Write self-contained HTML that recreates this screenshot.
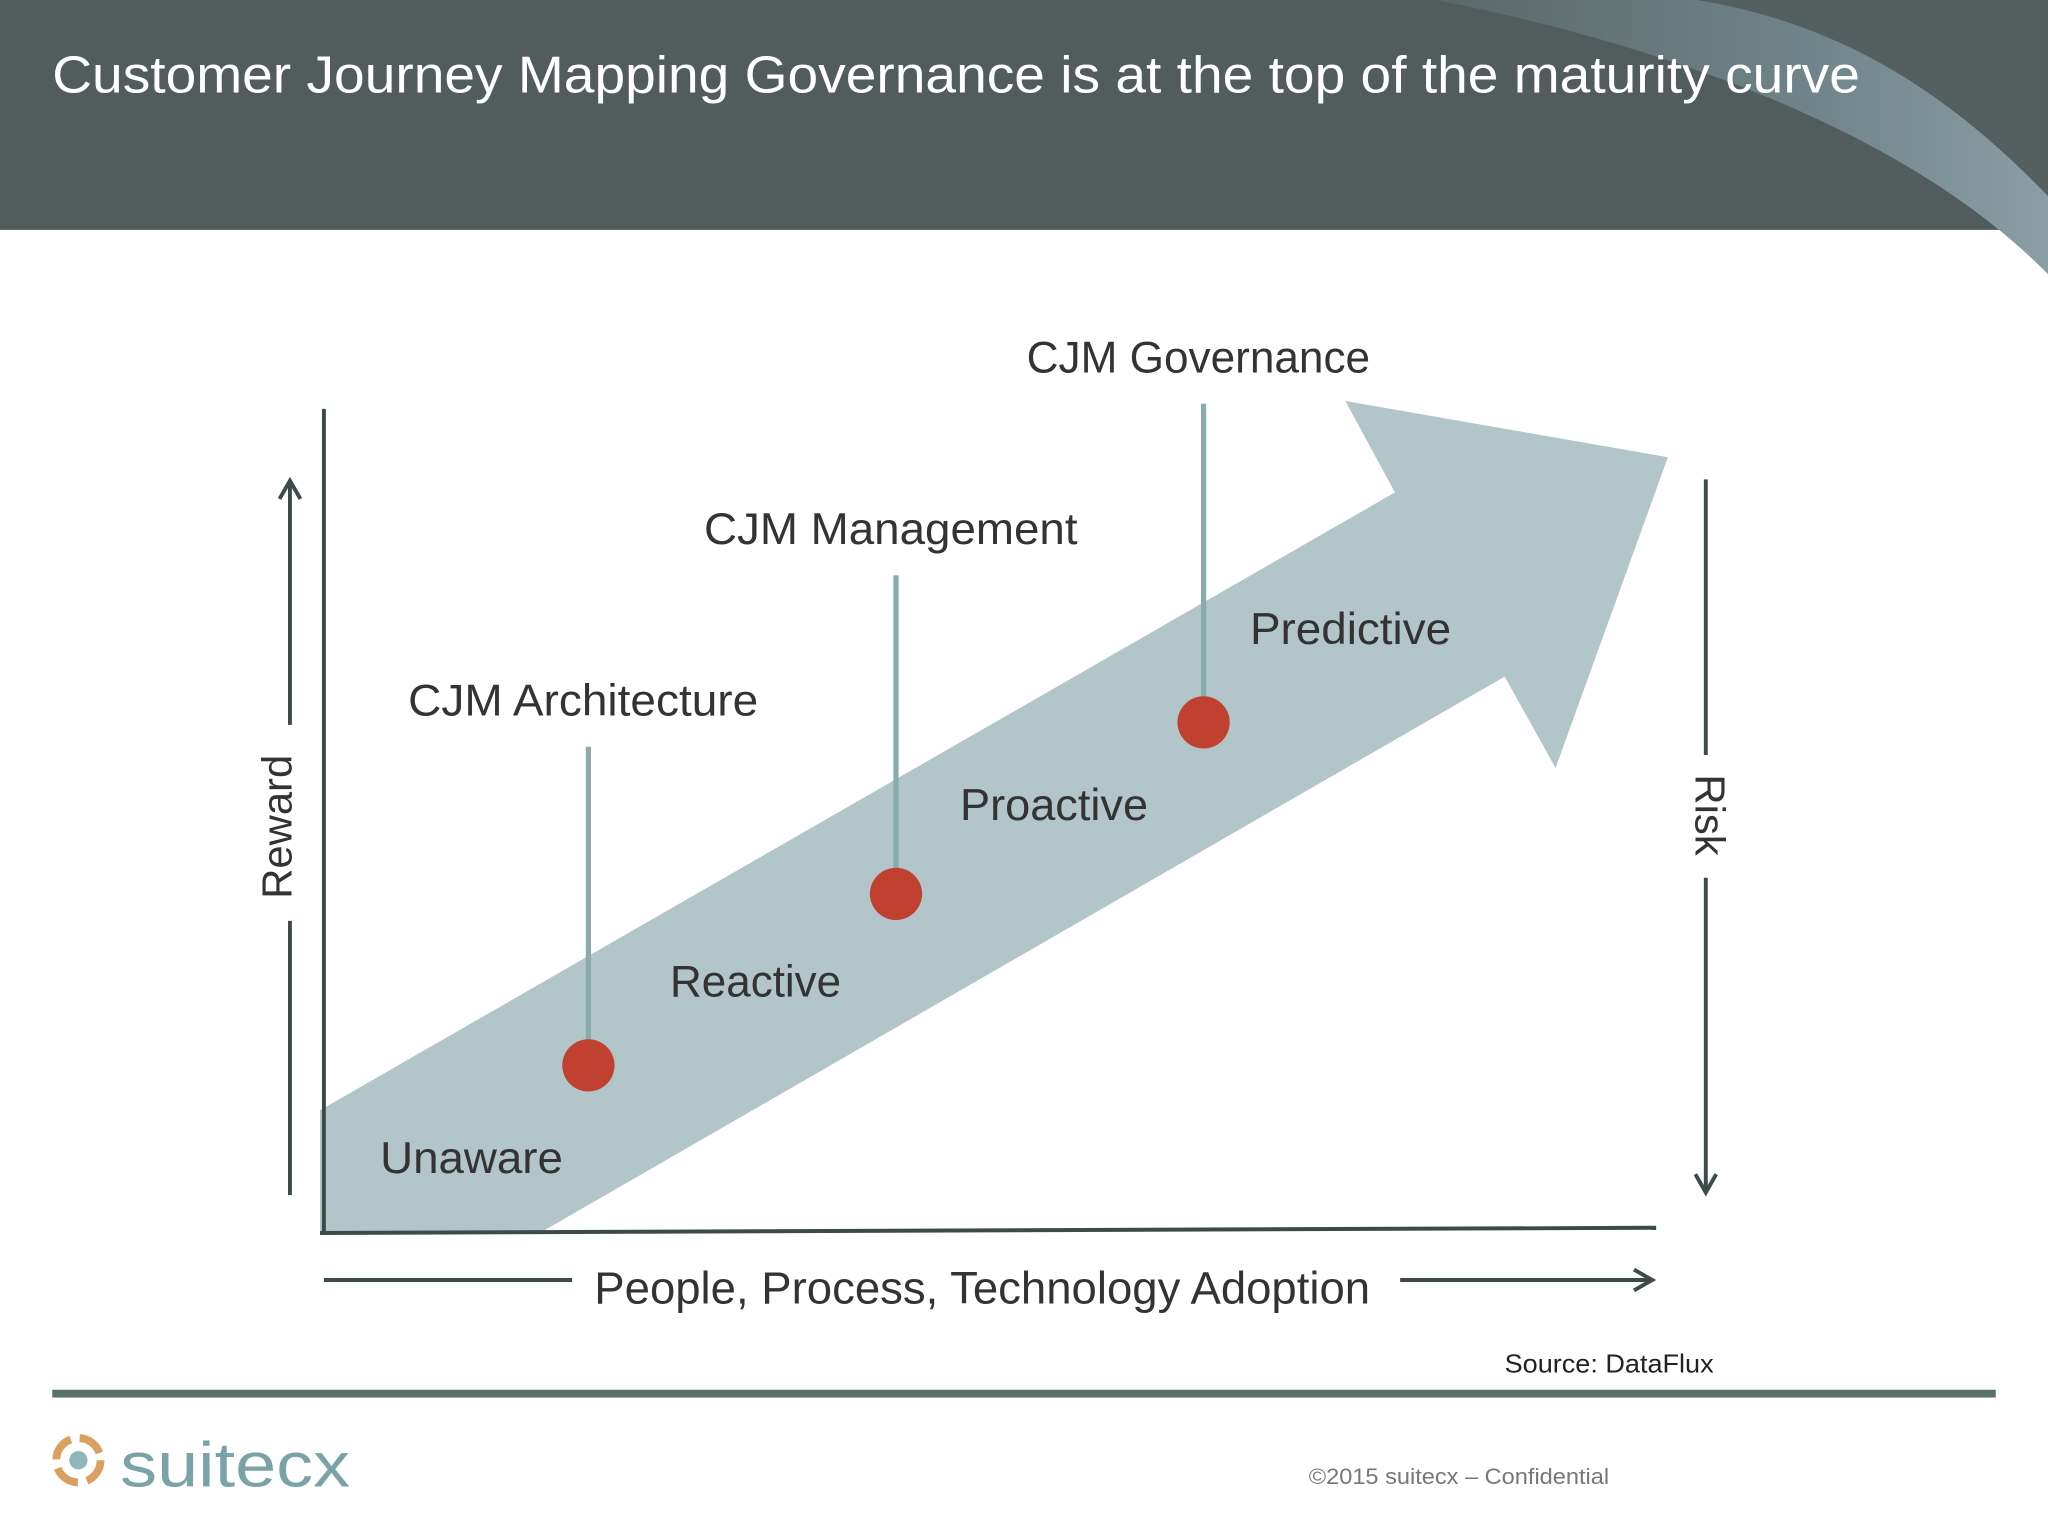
<!DOCTYPE html>
<html><head><meta charset="utf-8"><style>
html,body{margin:0;padding:0;background:#fff;}
svg{display:block;}
text{font-family:"Liberation Sans",sans-serif;}
</style></head><body>
<svg id="chart" width="2048" height="1536" viewBox="0 0 1568 1176" xmlns="http://www.w3.org/2000/svg">
<defs>
<linearGradient id="sw" x1="0" y1="0" x2="1" y2="0">
<stop offset="0" stop-color="#5a6868"/><stop offset="0.6" stop-color="#6f8488"/><stop offset="1" stop-color="#8a9ea3"/>
</linearGradient>
</defs>
<g>
<rect x="0" y="0" width="1568" height="176" fill="#525c5c"/>
<path d="M1100,0 C1300,40 1470,110 1568,210 L1568,150 C1500,80 1420,20 1300,0 Z" fill="url(#sw)"/>
<path d="M1300,0 L1568,0 L1568,150 C1500,80 1420,20 1300,0 Z" fill="#546060"/>
<text x="40" y="71" font-size="40" fill="#ffffff" textLength="1384" lengthAdjust="spacingAndGlyphs">Customer Journey Mapping Governance is at the top of the maturity curve</text>
</g>
<g id="plot">
<polygon points="245,850 1068,377 1030,307 1277,350 1191,588 1152,518 415,943 245,943" fill="#b2c5c8"/>
<line x1="248" y1="313" x2="248" y2="945" stroke="#3d4a4a" stroke-width="3"/>
<line x1="245" y1="944" x2="1268" y2="940" stroke="#3d4a4a" stroke-width="3"/>
<g stroke="#3d4a4a" stroke-width="3" fill="none">
<line x1="222" y1="915" x2="222" y2="705"/><line x1="222" y1="555" x2="222" y2="370"/>
<polyline points="214,382 222,368 230,382"/>
</g>
<text transform="translate(223,633) rotate(-90)" text-anchor="middle" font-size="32" fill="#333">Reward</text>
<g stroke="#3d4a4a" stroke-width="3" fill="none">
<line x1="1306" y1="367" x2="1306" y2="578"/><line x1="1306" y1="672" x2="1306" y2="913"/>
<polyline points="1298,899 1306,913 1314,899"/>
</g>
<text transform="translate(1298,624) rotate(90)" text-anchor="middle" font-size="32" fill="#333">Risk</text>
<g stroke="#3d4a4a" stroke-width="3" fill="none">
<line x1="248" y1="980" x2="438" y2="980"/><line x1="1072" y1="980" x2="1265" y2="980"/>
<polyline points="1251,972 1265,980 1251,988"/>
</g>
<text x="752" y="998" text-anchor="middle" font-size="35" fill="#333" textLength="594" lengthAdjust="spacingAndGlyphs">People, Process, Technology Adoption</text>
</g>
<text x="1152" y="1051" font-size="20" fill="#222" textLength="160" lengthAdjust="spacingAndGlyphs">Source: DataFlux</text>
<rect x="40" y="1064" width="1488" height="6" fill="#5b716b"/>
<g>
<circle cx="60" cy="1118" r="17" fill="none" stroke="#d9a060" stroke-width="6" stroke-dasharray="20 7"/>
<circle cx="60" cy="1118" r="7" fill="#8fb8bc"/>
<text x="92" y="1138" font-size="48" fill="#7aa3a8" textLength="176" lengthAdjust="spacingAndGlyphs">suitecx</text>
</g>
<text x="1002" y="1136" font-size="17" fill="#777" textLength="230" lengthAdjust="spacingAndGlyphs">©2015 suitecx – Confidential</text>
<script>
const milestones = ["CJM Architecture", "CJM Management", "CJM Governance"];
const milestoneLevels = [1, 2, 3];
const stages = ["Unaware", "Reactive", "Proactive", "Predictive"];
const stageLevels = [0, 1, 2, 3];
const NS = "http://www.w3.org/2000/svg";
const milestoneWidths = [268, 286, 263];
const stageWidths = [140, 131, 144, 154];
function xs(v){ return 215 + v * 235.5; }
function ys(v){ return 947 - v * 131.3; }
function lx(v){ return 291 + v * 222; }
function ly(v){ return 898 - v * 135; }
const plot = document.getElementById('plot');
milestones.forEach(function(name, i){
  const v = milestoneLevels[i];
  const cx = xs(v), cy = ys(v);
  const top = cy - 244;
  const stem = document.createElementNS(NS, 'line');
  stem.setAttribute('x1', cx); stem.setAttribute('x2', cx);
  stem.setAttribute('y1', top); stem.setAttribute('y2', cy);
  stem.setAttribute('stroke', '#8aabab'); stem.setAttribute('stroke-width', '4');
  
  
  plot.appendChild(stem);
  const dot = document.createElementNS(NS, 'circle');
  dot.setAttribute('cx', cx); dot.setAttribute('cy', cy); dot.setAttribute('r', 20);
  dot.setAttribute('fill', '#c0412f');
  
  
  plot.appendChild(dot);
  const t = document.createElementNS(NS, 'text');
  t.setAttribute('x', cx - 4); t.setAttribute('y', top - 24);
  t.setAttribute('text-anchor', 'middle'); t.setAttribute('font-size', '34'); t.setAttribute('fill', '#333');
  t.setAttribute('textLength', milestoneWidths[i]); t.setAttribute('lengthAdjust', 'spacingAndGlyphs');
  t.textContent = name;
  
  
  plot.appendChild(t);
});
stages.forEach(function(name, i){
  const v = stageLevels[i];
  const t = document.createElementNS(NS, 'text');
  t.setAttribute('x', lx(v)); t.setAttribute('y', ly(v));
  t.setAttribute('font-size', '34'); t.setAttribute('fill', '#333');
  t.setAttribute('textLength', stageWidths[i]); t.setAttribute('lengthAdjust', 'spacingAndGlyphs');
  t.textContent = name;
  
  
  plot.appendChild(t);
});
</script>
</svg>
</body></html>
